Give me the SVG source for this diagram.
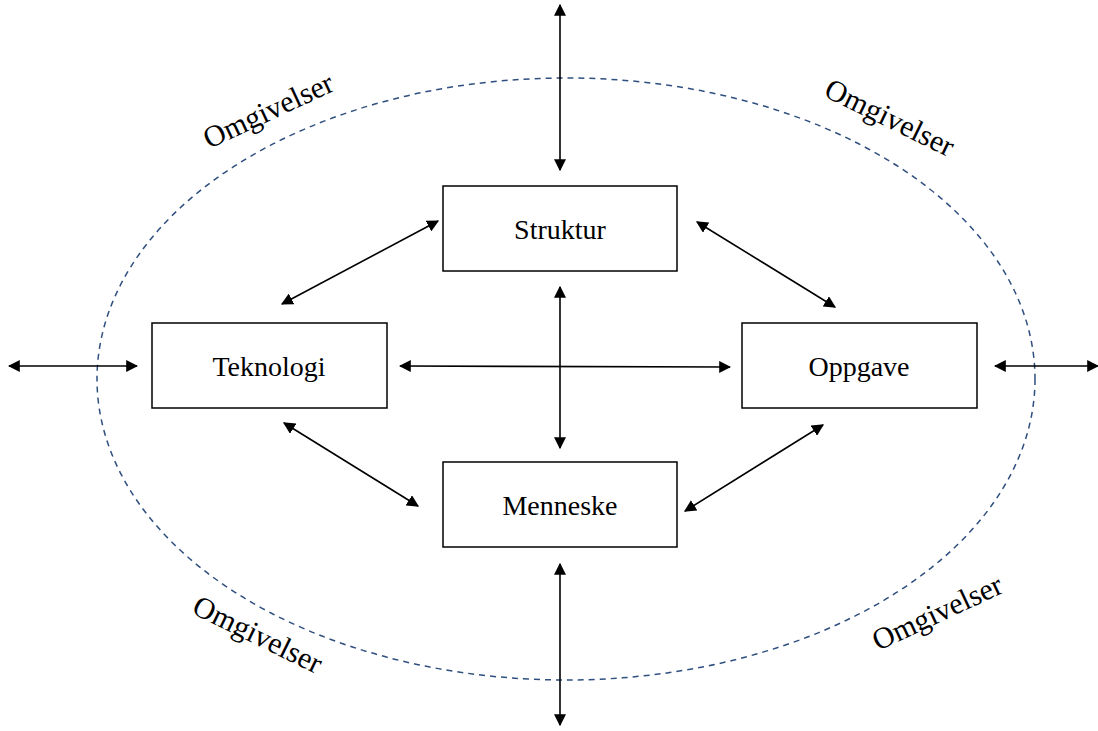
<svg xmlns="http://www.w3.org/2000/svg" width="1098" height="731" viewBox="0 0 1098 731">
  <style>
    .box { fill: #ffffff; stroke: #000000; stroke-width: 1.5; }
    .label { font-family: "Liberation Serif", "Times New Roman", serif; font-size: 28px; fill: #000000; text-anchor: middle; dominant-baseline: central; }
    .env { font-family: "Liberation Serif", "Times New Roman", serif; font-size: 30px; fill: #000000; text-anchor: middle; dominant-baseline: central; }
    .link { stroke: #000000; stroke-width: 1.6; fill: none; marker-start: url(#head); marker-end: url(#head); }
    .boundary { fill: none; stroke: #2f4f7f; stroke-width: 1.5; stroke-dasharray: 6 5; }
  </style>
  <defs>
    <marker id="head" viewBox="0 0 10 10" refX="9" refY="5" markerWidth="12" markerHeight="12" markerUnits="userSpaceOnUse" orient="auto-start-reverse">
      <path d="M0,0 L10,5 L0,10 z" fill="#000000"/>
    </marker>
  </defs>
  <rect width="1098" height="731" fill="#ffffff"/>

  <!-- environment boundary -->
  <ellipse class="boundary" cx="566" cy="379" rx="469" ry="301"/>

  <!-- environment labels -->
  <g id="env-labels">
    <text class="env" transform="translate(268,110) rotate(-25)">Omgivelser</text>
    <text class="env" transform="translate(890,117) rotate(26)">Omgivelser</text>
    <text class="env" transform="translate(258,634) rotate(26)">Omgivelser</text>
    <text class="env" transform="translate(937,612) rotate(-25)">Omgivelser</text>
  </g>

  <!-- connectors -->
  <g id="connectors">
    <line class="link" x1="560" y1="5" x2="560" y2="170"/>
    <line class="link" x1="560" y1="564" x2="560" y2="725"/>
    <line class="link" x1="560" y1="287" x2="560" y2="448"/>
    <line class="link" x1="400" y1="366" x2="730" y2="367"/>
    <line class="link" x1="9" y1="366" x2="137" y2="366"/>
    <line class="link" x1="995" y1="366" x2="1098" y2="366"/>
    <line class="link" x1="438" y1="221" x2="282" y2="304"/>
    <line class="link" x1="697" y1="222" x2="835" y2="307"/>
    <line class="link" x1="284" y1="423" x2="418" y2="506"/>
    <line class="link" x1="823" y1="425" x2="685" y2="511"/>
  </g>

  <g id="struktur">
    <rect class="box" x="443" y="186" width="234" height="85"/>
    <text class="label" x="560" y="229">Struktur</text>
  </g>
  <g id="teknologi">
    <rect class="box" x="152" y="323" width="235" height="85"/>
    <text class="label" x="269" y="366">Teknologi</text>
  </g>
  <g id="oppgave">
    <rect class="box" x="742" y="323" width="235" height="85"/>
    <text class="label" x="859" y="366">Oppgave</text>
  </g>
  <g id="menneske">
    <rect class="box" x="443" y="462" width="234" height="85"/>
    <text class="label" x="560" y="505">Menneske</text>
  </g>
</svg>
